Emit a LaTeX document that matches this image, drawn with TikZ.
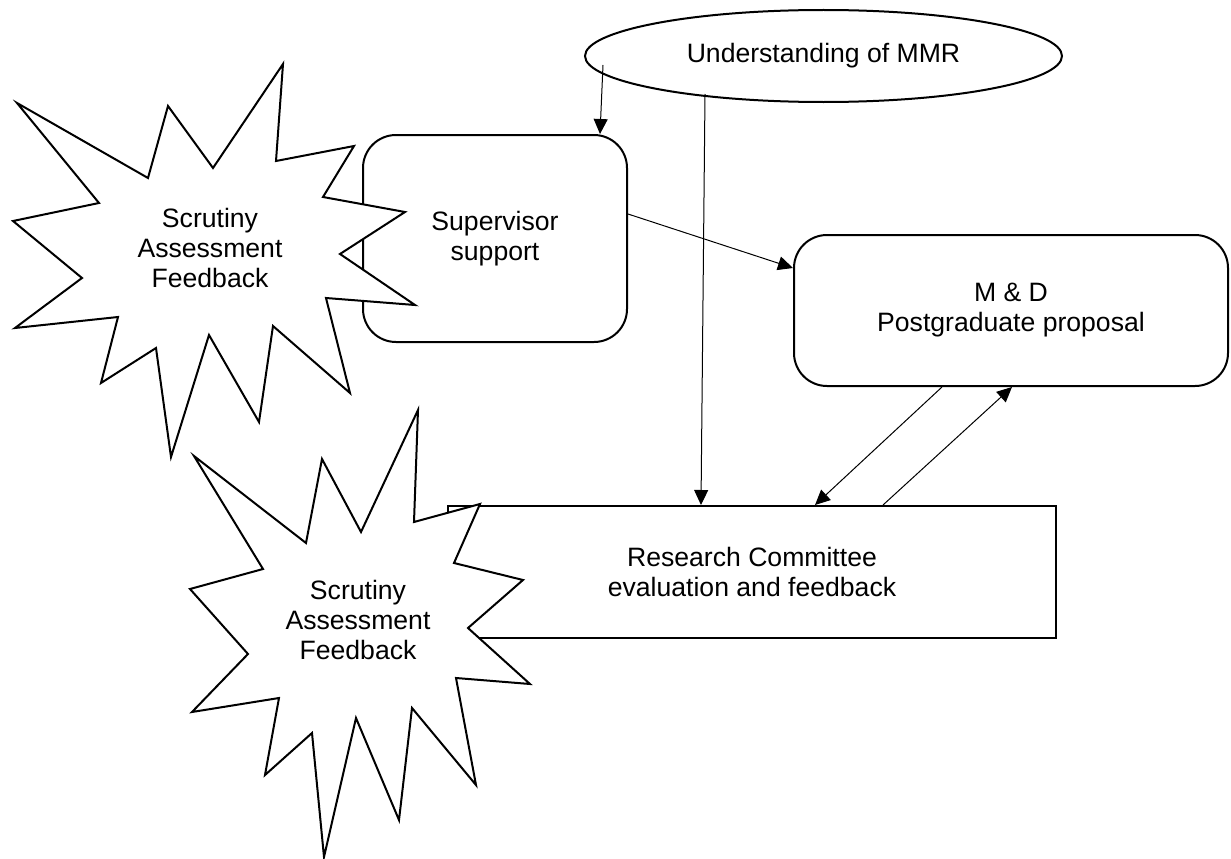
\documentclass[tikz,border=0pt]{standalone}
\usepackage{fontspec}
\setmainfont{Liberation Sans}
\usetikzlibrary{shapes.geometric,arrows.meta,calc}
\begin{document}
\begin{tikzpicture}[x=1pt,y=-1pt,
  every node/.style={font=\fontsize{26.6}{30}\selectfont, align=center},
  boxline/.style={draw, line width=2pt},
  rbox/.style={boxline, rectangle, rounded corners=33pt, inner sep=0pt},
  conn/.style={line width=1pt, -{Triangle[length=15pt,width=14pt]}},
  starshape/.style={draw, line width=2pt, fill=white},
  startext/.style={inner sep=0pt}
]
\useasboundingbox (0,0) rectangle (1231,859);

% nodes
\node[boxline, shape=ellipse, minimum width=477pt, minimum height=92pt, inner sep=0pt] (mmr) at (823.5,56) {Understanding of MMR};
\node[rbox, minimum width=264pt, minimum height=207pt] (sup) at (495,238.5) {Supervisor\\support};
\node[rbox, minimum width=434pt, minimum height=151pt] (md) at (1011,310.5) {M \& D\\Postgraduate proposal};
\node[boxline, rectangle, minimum width=608pt, minimum height=132pt, inner sep=0pt] (rc) at (752,572) {Research Committee\\evaluation and feedback};

% connectors
\draw[conn] ($(mmr.center)+(-220.5,9)$) -- ($(sup.north)+(105,0)$);
\draw[conn] ($(mmr.center)+(-118.5,38)$) -- ($(rc.north)+(-51,0)$);
\draw[conn] ($(sup.east)+(0,-24.5)$) -- ($(md.west)+(0,-42.5)$);
\draw[conn] ($(md.south)+(-69,0)$) -- ($(rc.north)+(63,0)$);
\draw[conn] ($(rc.north)+(131,0)$) -- ($(md.south)+(1,0)$);

% starbursts
\draw[starshape] (17,103) -- (148,178) -- (168,106) -- (213,168) -- (283,64) -- (276,161) -- (354,146) -- (323,197) -- (405,212) -- (340,254) -- (415,305) -- (326,298) -- (350,393) -- (273,326) -- (259,422) -- (209,335) -- (171,457) -- (156,348) -- (101,383) -- (118,317) -- (15,328) -- (82,278) -- (13,221) -- (99,203) -- cycle;
\node[startext] (s1) at (210,248) {Scrutiny\\Assessment\\Feedback};

\draw[starshape] (194,456) -- (306,543) -- (322,459) -- (361,532) -- (418,410) -- (414,522) -- (480,504) -- (454,563) -- (523,580) -- (468,628) -- (530,684) -- (456,678) -- (476,785) -- (412,708) -- (399,820) -- (356,718) -- (324,857) -- (312,733) -- (265,775) -- (279,698) -- (192,712) -- (248,654) -- (190,589) -- (263,569) -- cycle;
\node[startext] (s2) at (358,620) {Scrutiny\\Assessment\\Feedback};
\end{tikzpicture}
\end{document}
